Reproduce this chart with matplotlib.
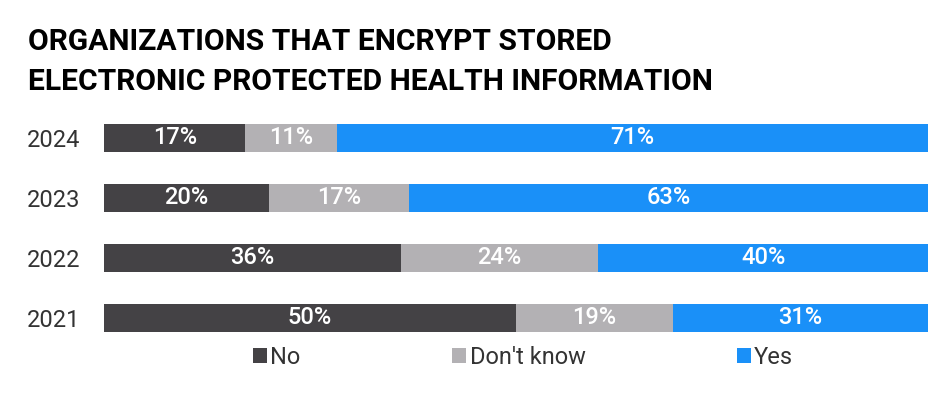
import matplotlib
matplotlib.use("Agg")
import matplotlib.pyplot as plt
from matplotlib.patches import Patch

plt.rcParams['font.family'] = ['Roboto', 'DejaVu Sans']

years = ["2024", "2023", "2022", "2021"]
no_vals = [17, 20, 36, 50]
dk_vals = [11, 17, 24, 19]
yes_vals = [71, 63, 40, 31]
series_names = ["No", "Don't know", "Yes"]
colors = ["#444245", "#b3b1b4", "#1a90f8"]
title_lines = ["ORGANIZATIONS THAT ENCRYPT STORED",
               "ELECTRONIC PROTECTED HEALTH INFORMATION"]

fig = plt.figure(figsize=(9.5, 3.96), dpi=100)
ax = fig.add_axes([104/950, 1-348/396, (928-104)/950, 240/396])

series = [no_vals, dk_vals, yes_vals]
row_tot = [a + b + c for a, b, c in zip(no_vals, dk_vals, yes_vals)]
y = list(range(len(years)))
left = [0.0]*len(years)
handles = []
for vals, name, col in zip(series, series_names, colors):
    widths = [v / t * 100 for v, t in zip(vals, row_tot)]
    ax.barh(y, widths, left=left, height=0.467, color=col, edgecolor='none', label=name)
    for yi, v, w, l in zip(y, vals, widths, left):
        ax.text(l + w/2, yi, f"{v}%", ha='center', va='center', color='white',
                fontsize=17, fontweight='medium')
    left = [a + b for a, b in zip(left, widths)]
    handles.append(Patch(facecolor=col, label=name))

ax.set_xlim(0, 100)
ax.set_ylim(3.5, -0.5)
ax.set_yticks(y)
ax.set_yticklabels(years, fontsize=17, color='#333333')
ax.tick_params(axis='y', length=0, pad=17)
ax.set_xticks([])
for s in ax.spines.values():
    s.set_visible(False)

for i, line in enumerate(title_lines):
    fig.text(28/950, 1-(50 + 40*i)/396, line, fontsize=21.6, fontweight='bold',
             color='black', ha='left', va='baseline')

fig.legend(handles=handles, loc='center', bbox_to_anchor=(523/950, 1-357/396), ncol=3,
           frameon=False, fontsize=17, handlelength=0.6, handleheight=0.6,
           handletextpad=0.15, columnspacing=6.4, labelcolor='#333333')

fig.savefig("out.png", dpi=100)
